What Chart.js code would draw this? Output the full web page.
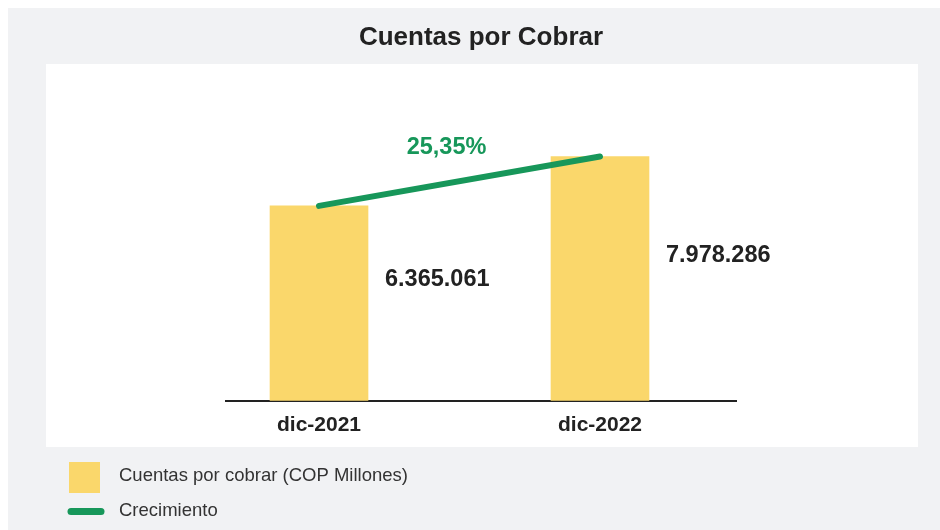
<!DOCTYPE html>
<html>
<head>
<meta charset="utf-8">
<script src="https://cdn.jsdelivr.net/npm/chart.js@4.4.1/dist/chart.umd.min.js"></script>
<style>
  html, body { margin: 0; padding: 0; background: #ffffff; }
  #wrap { width: 940px; height: 530px; position: relative; }
  canvas { display: block; }
</style>
</head>
<body>
<div id="wrap"><canvas id="c" width="940" height="530"></canvas></div>
<script>
// ---- Data ----
const categories = ['dic-2021', 'dic-2022'];
const cuentasPorCobrar = [6365061, 7978286];
const seriesLabels = ['Cuentas por cobrar (COP Millones)', 'Crecimiento'];
const chartTitle = 'Cuentas por Cobrar';

// ---- Styles ----
const FONT = '"Liberation Sans", Arial, Helvetica, sans-serif';
const YELLOW = '#fad76b';
const GREEN = '#17975a';
const GRAY = '#f1f2f4';
const DARK = '#222222';

function fmtThousands(v) {
  return String(v).replace(/\B(?=(\d{3})+(?!\d))/g, '.');
}
function fmtPct(a, b) {
  return ((b / a - 1) * 100).toFixed(2).replace('.', ',') + '%';
}

const barPoints = cuentasPorCobrar.map((v, i) => ({ x: i, y: v }));
const linePoints = cuentasPorCobrar.map((v, i) => ({ x: i, y: v }));

const backgroundPlugin = {
  id: 'bgPanels',
  beforeDraw(chart) {
    const ctx = chart.ctx;
    ctx.save();
    ctx.fillStyle = '#ffffff';
    ctx.fillRect(0, 0, chart.width, chart.height);
    ctx.fillStyle = GRAY;
    ctx.fillRect(8, 8, chart.width - 8, chart.height - 8);
    ctx.fillStyle = '#ffffff';
    ctx.fillRect(46, 64, 872, 383);
    ctx.restore();
  }
};

const labelsPlugin = {
  id: 'valueLabels',
  afterDatasetsDraw(chart) {
    const ctx = chart.ctx;
    ctx.save();
    const barMeta = chart.getDatasetMeta(0);
    ctx.font = 'bold 23.5px ' + FONT;
    ctx.fillStyle = DARK;
    ctx.textAlign = 'left';
    ctx.textBaseline = 'middle';
    barMeta.data.forEach((el, i) => {
      const p = el.getProps(['x', 'y', 'base', 'width'], true);
      ctx.fillText(fmtThousands(cuentasPorCobrar[i]), p.x + p.width / 2 + 17, (p.y + p.base) / 2 - 23.5);
    });
    const lineMeta = chart.getDatasetMeta(1);
    const a = lineMeta.data[0], b = lineMeta.data[1];
    ctx.fillStyle = GREEN;
    ctx.textAlign = 'center';
    ctx.fillText(fmtPct(cuentasPorCobrar[0], cuentasPorCobrar[1]), (a.x + b.x) / 2 - 13, (a.y + b.y) / 2 - 34);
    ctx.restore();
  }
};

const legendPlugin = {
  id: 'customLegend',
  afterDraw(chart) {
    const ctx = chart.ctx;
    const ds = chart.data.datasets;
    ctx.save();
    ctx.fillStyle = YELLOW;
    ctx.fillRect(69, 462, 31, 31);
    ctx.strokeStyle = GREEN;
    ctx.lineWidth = 7;
    ctx.lineCap = 'round';
    ctx.beginPath();
    ctx.moveTo(71, 511.5);
    ctx.lineTo(101, 511.5);
    ctx.stroke();
    ctx.font = '18.5px ' + FONT;
    ctx.fillStyle = '#333333';
    ctx.textAlign = 'left';
    ctx.textBaseline = 'middle';
    ctx.fillText(ds[0].label, 119, 476);
    ctx.fillText(ds[1].label, 119, 511);
    ctx.restore();
  }
};

new Chart(document.getElementById('c'), {
  data: {
    datasets: [
      {
        type: 'bar',
        label: seriesLabels[0],
        data: barPoints,
        backgroundColor: YELLOW,
        borderWidth: 0,
        barThickness: 98,
        order: 2
      },
      {
        type: 'line',
        label: seriesLabels[1],
        data: linePoints,
        borderColor: GREEN,
        borderWidth: 6,
        borderCapStyle: 'round',
        pointRadius: 0,
        tension: 0,
        fill: false,
        clip: false,
        order: 1
      }
    ]
  },
  options: {
    responsive: false,
    animation: false,
    events: [],
    layout: { padding: { left: 226, right: 204, top: 0, bottom: 80 } },
    plugins: {
      legend: { display: false },
      tooltip: { enabled: false },
      title: {
        display: true,
        text: chartTitle,
        color: DARK,
        font: { family: FONT, size: 26, weight: 'bold' },
        padding: { top: 22, bottom: 10.8 }
      }
    },
    scales: {
      x: {
        type: 'linear',
        min: -0.331,
        max: 1.484,
        offset: false,
        bounds: 'data',
        z: 1,
        grid: { display: false, drawTicks: false, offset: false },
        border: { display: true, color: DARK, width: 2 },
        afterBuildTicks(scale) {
          scale.ticks = categories.map((c, i) => ({ value: i }));
        },
        ticks: {
          padding: 12,
          color: DARK,
          font: { family: FONT, size: 21, weight: 'bold' },
          callback: (v) => categories[v]
        }
      },
      y: {
        display: false,
        min: 0,
        max: 11000000
      }
    }
  },
  plugins: [backgroundPlugin, labelsPlugin, legendPlugin]
});
</script>
</body>
</html>
